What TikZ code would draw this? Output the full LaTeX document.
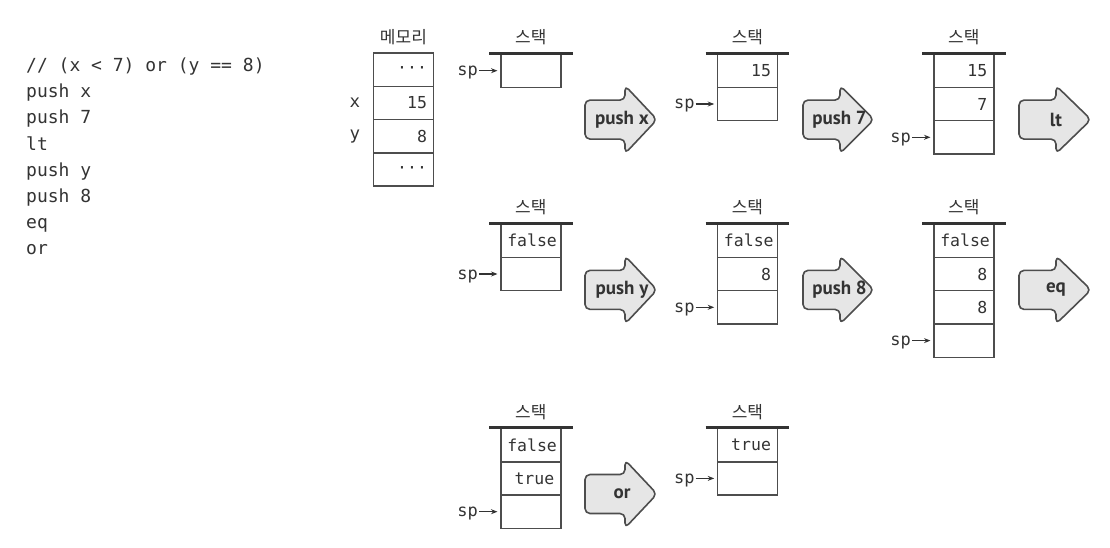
\documentclass[tikz,border=0pt]{standalone}
\usepackage{fontspec}
\setmainfont{PT Sans}
\newfontfamily\monof{DejaVu Sans Mono}
\newfontfamily\krf{Noto Sans CJK KR}
\usetikzlibrary{calc,arrows.meta}
\definecolor{ink}{HTML}{333333}
\definecolor{edge}{HTML}{4D4D4D}
\definecolor{afill}{HTML}{E6E6E6}
\tikzset{
  cell/.style={draw=edge, line width=1.5pt, minimum width=60pt, minimum height=33.3pt,
    text width=47pt, inner xsep=6.5pt, inner ysep=0pt, align=right,
    font=\monof\fontsize{16.5}{18}\selectfont, text=ink, anchor=north west},
  bar/.style={draw=ink, line width=3pt},
  klbl/.style={font=\krf\fontsize{17}{20}\selectfont, text=ink, inner sep=0pt},
  sptxt/.style={font=\monof\fontsize{17}{18}\selectfont, text=ink, inner sep=1pt, anchor=base east},
  sparr/.style={draw=ink, line width=1.3pt, -{Stealth[length=6.5pt,width=5pt]}, shorten >=2.5pt},
  codeline/.style={font=\monof\fontsize{18}{20}\selectfont, text=ink, inner sep=0pt, anchor=base west},
  memlbl/.style={font=\monof\fontsize{17.5}{18}\selectfont, text=ink, inner sep=0pt},
  oparr/.style={draw=edge, fill=afill, line width=1.6pt, rounded corners=5pt, line join=round},
  oplbl/.style={font=\bfseries\fontsize{19}{20}\selectfont, text=ink, inner sep=0pt}
}
\newcommand\oparrow[6]{%
  \draw[oparr] (#1,#4-19.5) -- (#2,#4-19.5) -- (#2,#4-34) -- (#3,#4) -- (#2,#4+34) -- (#2,#4+19.5) -- (#1,#4+19.5) -- cycle;
  \node[oplbl] (#6) at ({(#1+#3)/2+1},#4) {#5};}
\newcommand\stackbar[2]{%
  \draw[bar] ($(#1.north west)+(-11,0)$) -- ($(#1.north east)+(11,0)$);
  \node[klbl] (#2) at ($(#1.north)+(0,-16)$) {스택};}
\newcommand\spmark[2]{%
  \node[sptxt] (#2) at ($(#1.west)+(-21,5)$) {sp};
  \draw[sparr] (#2.east |- #1.west) -- (#1.west);}
\begin{document}
\begin{tikzpicture}[x=1pt,y=-1pt]
\useasboundingbox (0,0) rectangle (1110,548);
% code
\node[codeline] (c0) at (26,71.5) {// (x < 7) or (y == 8)};
\node[codeline] (c1) at (26,97.7) {push x};
\node[codeline] (c2) at (26,123.9) {push 7};
\node[codeline] (c3) at (26,150.1) {lt};
\node[codeline] (c4) at (26,176.3) {push y};
\node[codeline] (c5) at (26,202.5) {push 8};
\node[codeline] (c6) at (26,228.7) {eq};
\node[codeline] (c7) at (26,254.9) {or};
% memory
\node[cell] (m0) at (372.7,52.3) {···};
\node[cell] (m1) at (372.7,85.6) {15};
\node[cell] (m2) at (372.7,118.9) {8};
\node[cell] (m3) at (372.7,152.2) {···};
\node[klbl] (mt) at ($(m0.north)+(0,-15)$) {메모리};
\coordinate (mxc) at (355,0);
\node[memlbl] (mx) at (mxc |- m1.center) {x};
\node[memlbl] (my) at (mxc |- m2.center) {y};
% row 1 stacks
\node[cell] (a1r0) at (500,53.3) {};
\stackbar{a1r0}{a1t}
\spmark{a1r0}{a1sp}
\node[cell] (b1r0) at (716.7,53.3) {15};
\node[cell] (b1r1) at (716.7,86.6) {};
\stackbar{b1r0}{b1t}
\spmark{b1r1}{b1sp}
\node[cell] (c1r0) at (933,53.3) {15};
\node[cell] (c1r1) at (933,86.6) {7};
\node[cell] (c1r2) at (933,119.9) {};
\stackbar{c1r0}{c1t}
\spmark{c1r2}{c1sp}
% row 2 stacks
\node[cell] (a2r0) at (500,223.3) {false};
\node[cell] (a2r1) at (500,256.6) {};
\stackbar{a2r0}{a2t}
\spmark{a2r1}{a2sp}
\node[cell] (b2r0) at (716.7,223.3) {false};
\node[cell] (b2r1) at (716.7,256.6) {8};
\node[cell] (b2r2) at (716.7,289.9) {};
\stackbar{b2r0}{b2t}
\spmark{b2r2}{b2sp}
\node[cell] (c2r0) at (933,223.3) {false};
\node[cell] (c2r1) at (933,256.6) {8};
\node[cell] (c2r2) at (933,289.9) {8};
\node[cell] (c2r3) at (933,323.2) {};
\stackbar{c2r0}{c2t}
\spmark{c2r3}{c2sp}
% row 3 stacks
\node[cell] (a3r0) at (500,427.7) {false};
\node[cell] (a3r1) at (500,461.0) {true};
\node[cell] (a3r2) at (500,494.3) {};
\stackbar{a3r0}{a3t}
\spmark{a3r2}{a3sp}
\node[cell] (b3r0) at (716.7,427.7) {true};
\node[cell] (b3r1) at (716.7,461.0) {};
\stackbar{b3r0}{b3t}
\spmark{b3r1}{b3sp}
% operation arrows
\oparrow{585}{625}{657}{119.6}{push x}{op1}
\oparrow{803}{840}{874}{119.6}{push 7}{op2}
\oparrow{1019}{1056}{1091}{119.6}{lt}{op3}
\oparrow{585}{625}{657}{289.9}{push y}{op4}
\oparrow{803}{840}{874}{289.9}{push 8}{op5}
\oparrow{1019}{1056}{1091}{289.9}{eq}{op6}
\oparrow{585}{625}{657}{494}{or}{op7}
\end{tikzpicture}
\end{document}
